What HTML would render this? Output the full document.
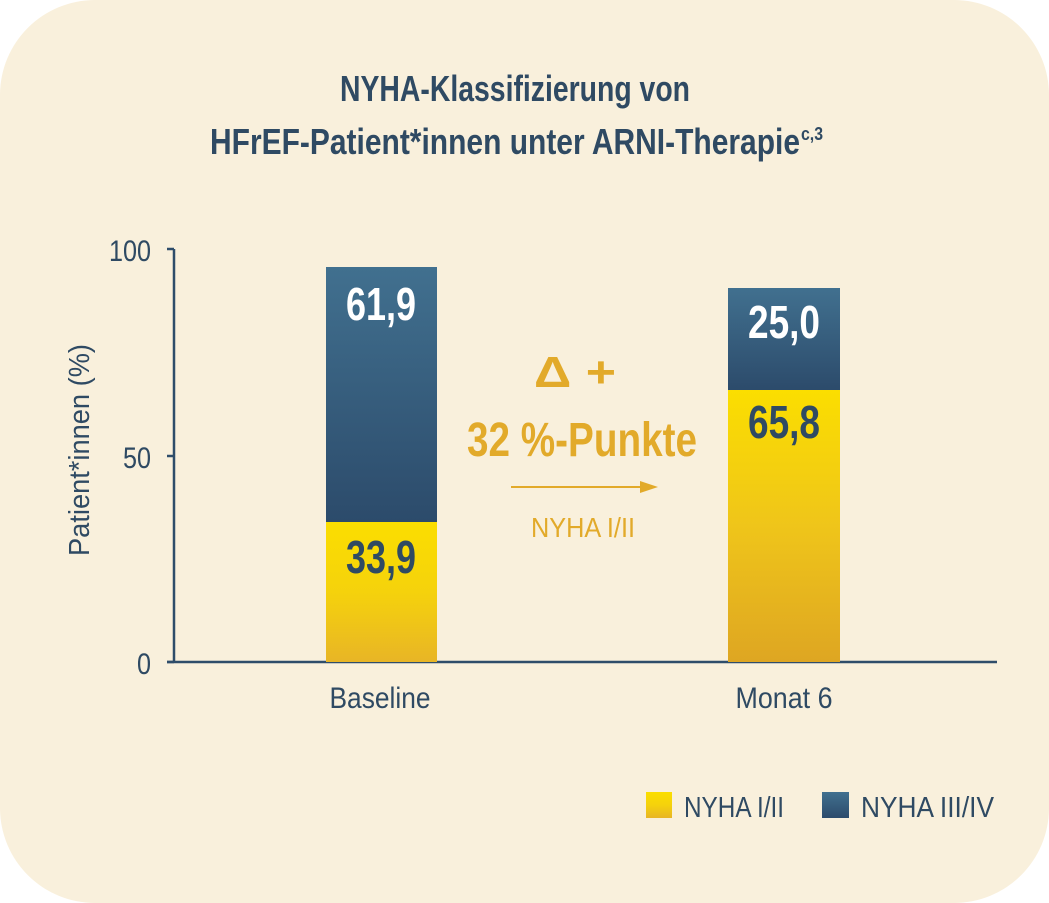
<!DOCTYPE html>
<html><head><meta charset="utf-8"><style>
html,body{margin:0;padding:0;background:#fff;}
svg{display:block;}
text{font-family:"Liberation Sans Narrow","Liberation Sans",sans-serif;}
</style></head><body>
<svg width="1049" height="903" viewBox="0 0 1049 903" xmlns="http://www.w3.org/2000/svg">
<defs>
<linearGradient id="bl" x1="0" y1="0" x2="0" y2="1"><stop offset="0" stop-color="#41708f"/><stop offset="1" stop-color="#2c4b6b"/></linearGradient>
<linearGradient id="ye1" x1="0" y1="0" x2="0" y2="1"><stop offset="0" stop-color="#fbde00"/><stop offset="0.5" stop-color="#f5d20c"/><stop offset="1" stop-color="#e8b526"/></linearGradient>
<linearGradient id="ye2" x1="0" y1="0" x2="0" y2="1"><stop offset="0" stop-color="#fbde00"/><stop offset="0.5" stop-color="#efc51a"/><stop offset="1" stop-color="#dea622"/></linearGradient>
</defs>
<rect x="0" y="0" width="1049" height="903" fill="#fff"/>
<rect x="0" y="0" width="1049" height="903" rx="95" fill="#f9f0dc"/>
<g fill="#2f4a63" font-weight="bold" font-size="36">
<text x="340" y="101" textLength="350" lengthAdjust="spacingAndGlyphs">NYHA-Klassifizierung von</text>
<text x="210" y="154" textLength="590" lengthAdjust="spacingAndGlyphs">HFrEF-Patient*innen unter ARNI-Therapie</text>
<text x="801" y="140" font-size="18" textLength="22" lengthAdjust="spacingAndGlyphs">c,3</text>
</g>
<g stroke="#2f4d6a" stroke-width="2.5" fill="none">
<line x1="174" y1="249" x2="174" y2="663"/>
<line x1="167" y1="249" x2="174" y2="249"/>
<line x1="167" y1="456" x2="174" y2="456"/>
<line x1="167" y1="662" x2="174" y2="662"/>
<line x1="167" y1="662" x2="997" y2="662"/>
</g>
<g fill="#2f4a63" font-size="30">
<text x="151" y="261" text-anchor="end" textLength="42" lengthAdjust="spacingAndGlyphs">100</text>
<text x="151" y="468" text-anchor="end" textLength="28" lengthAdjust="spacingAndGlyphs">50</text>
<text x="151" y="674" text-anchor="end" textLength="14" lengthAdjust="spacingAndGlyphs">0</text>
<text transform="translate(89,450) rotate(-90)" text-anchor="middle" font-size="29" textLength="212" lengthAdjust="spacingAndGlyphs">Patient*innen (%)</text>
<text x="380" y="708" text-anchor="middle" textLength="101" lengthAdjust="spacingAndGlyphs">Baseline</text>
<text x="784" y="708" text-anchor="middle" textLength="97" lengthAdjust="spacingAndGlyphs">Monat 6</text>
</g>
<rect x="326" y="522" width="111" height="140" fill="url(#ye1)"/>
<rect x="326" y="267" width="111" height="255" fill="url(#bl)"/>
<rect x="728" y="390" width="112" height="272" fill="url(#ye2)"/>
<rect x="728" y="288" width="112" height="102" fill="url(#bl)"/>
<g font-weight="bold" font-size="46" text-anchor="middle">
<text x="381" y="320" fill="#fff" textLength="70" lengthAdjust="spacingAndGlyphs">61,9</text>
<text x="381" y="573" fill="#2f4a63" textLength="70" lengthAdjust="spacingAndGlyphs">33,9</text>
<text x="784" y="338" fill="#fff" textLength="72" lengthAdjust="spacingAndGlyphs">25,0</text>
<text x="784" y="438" fill="#2f4a63" textLength="72" lengthAdjust="spacingAndGlyphs">65,8</text>
</g>
<g fill="#e2aa2a" text-anchor="middle">
<text x="575" y="387" font-weight="bold" font-size="44" textLength="82" lengthAdjust="spacingAndGlyphs">Δ +</text>
<text x="582" y="456" font-weight="bold" font-size="48" textLength="230" lengthAdjust="spacingAndGlyphs">32 %-Punkte</text>
<text x="583" y="537" font-size="28" textLength="104" lengthAdjust="spacingAndGlyphs">NYHA I/II</text>
</g>
<line x1="511" y1="487" x2="643" y2="487" stroke="#e2aa2a" stroke-width="2"/>
<polygon points="640,481 658,487 640,493" fill="#e2aa2a"/>
<rect x="646" y="792" width="26" height="26" fill="url(#ye1)"/>
<rect x="822" y="792" width="27" height="26" fill="url(#bl)"/>
<g fill="#2f4a63" font-size="29">
<text x="684" y="817" textLength="100" lengthAdjust="spacingAndGlyphs">NYHA I/II</text>
<text x="861" y="817" textLength="133" lengthAdjust="spacingAndGlyphs">NYHA III/IV</text>
</g>
</svg>
</body></html>
